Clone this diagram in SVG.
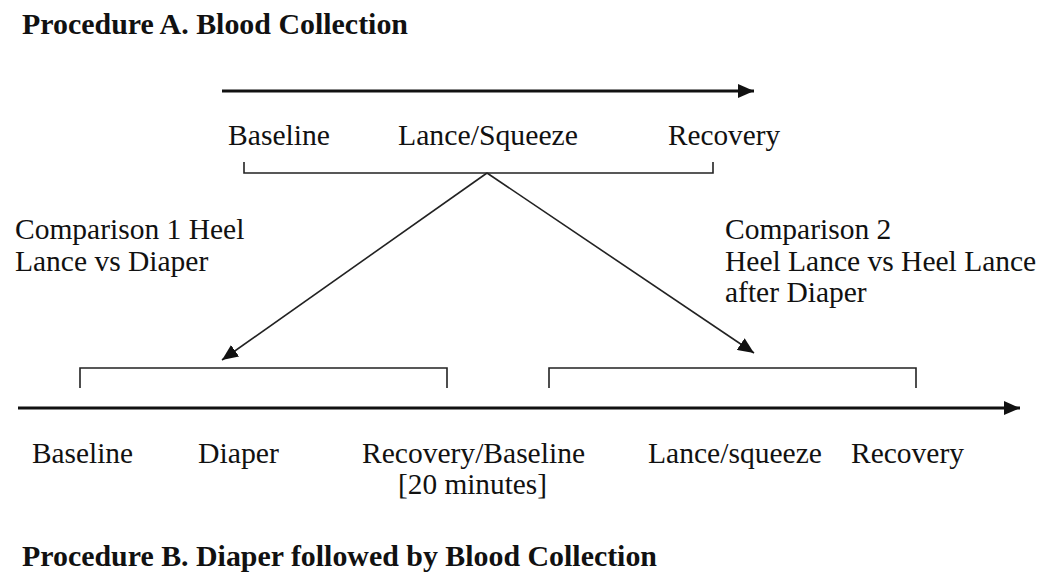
<svg xmlns="http://www.w3.org/2000/svg" width="1050" height="582" viewBox="0 0 1050 582">
<style>
text{font-family:"Liberation Serif","Times New Roman",serif;fill:#111;}
.t{font-size:29px;font-weight:bold;}
.l{font-size:29px;}
.c{font-size:29.5px;}
.ln{stroke:#222;stroke-width:1.6;fill:none;}
.ax{stroke:#111;stroke-width:3;fill:none;}
</style>
<defs>
<marker id="ahs" markerWidth="16" markerHeight="14" refX="16" refY="7" orient="auto" markerUnits="userSpaceOnUse" viewBox="0 0 16 14">
<path d="M0,0 L16,7 L0,14 z" fill="#111"/>
</marker>
</defs>
<g id="titleA"><text class="t" x="22" y="34" textLength="386" lengthAdjust="spacingAndGlyphs">Procedure A. Blood Collection</text></g>
<g id="titleB"><text class="t" x="22" y="566" textLength="635" lengthAdjust="spacingAndGlyphs">Procedure B. Diaper followed by Blood Collection</text></g>
<g id="topLabels">
<text class="l" x="228" y="145" textLength="102" lengthAdjust="spacingAndGlyphs">Baseline</text>
<text class="l" x="398" y="145" textLength="180" lengthAdjust="spacingAndGlyphs">Lance/Squeeze</text>
<text class="l" x="668" y="145" textLength="112" lengthAdjust="spacingAndGlyphs">Recovery</text>
</g>
<g id="comp1">
<text class="c" x="15" y="239">Comparison 1 Heel</text>
<text class="c" x="15" y="271">Lance vs Diaper</text>
</g>
<g id="comp2">
<text class="c" x="725" y="239">Comparison 2</text>
<text class="c" x="725" y="271">Heel Lance vs Heel Lance</text>
<text class="c" x="725" y="302">after Diaper</text>
</g>
<g id="bottomLabels">
<text class="l" x="32" y="463" textLength="101" lengthAdjust="spacingAndGlyphs">Baseline</text>
<text class="l" x="198" y="463" textLength="81" lengthAdjust="spacingAndGlyphs">Diaper</text>
<text class="l" x="362" y="463" textLength="223" lengthAdjust="spacingAndGlyphs">Recovery/Baseline</text>
<text class="l" x="398" y="494" textLength="149" lengthAdjust="spacingAndGlyphs">[20 minutes]</text>
<text class="l" x="648" y="463" textLength="174" lengthAdjust="spacingAndGlyphs">Lance/squeeze</text>
<text class="l" x="851" y="463" textLength="113" lengthAdjust="spacingAndGlyphs">Recovery</text>
</g>
<g id="brackets">
<path class="ln" d="M244,162 V173 H713 V162"/>
<path class="ln" d="M80,388 V368 H447 V388"/>
<path class="ln" d="M549,388 V368 H916 V388"/>
</g>
<g id="connectors">
<line class="ax" x1="222" y1="91" x2="754" y2="91" marker-end="url(#ahs)"/>
<line class="ax" x1="18" y1="408" x2="1020" y2="408" marker-end="url(#ahs)"/>
<line class="ln" x1="487" y1="173" x2="222" y2="360" marker-end="url(#ahs)"/>
<line class="ln" x1="487" y1="173" x2="754" y2="353" marker-end="url(#ahs)"/>
</g>
</svg>
